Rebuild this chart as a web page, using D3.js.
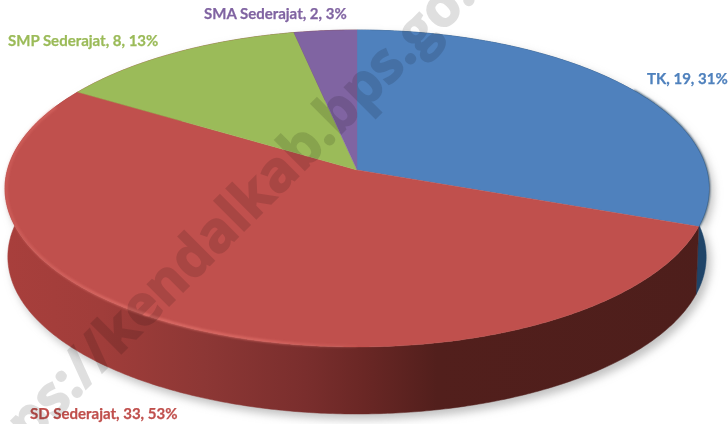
<!DOCTYPE html>
<html>
<head>
<meta charset="utf-8">
<style>
  html, body { margin: 0; padding: 0; background: #fff; overflow: hidden; }
  text { font-family: Lato, "Open Sans", sans-serif; font-weight: 700; }
</style>
<script src="https://cdn.jsdelivr.net/npm/d3@7/dist/d3.min.js"></script>
</head>
<body>
<div class="chart"></div>
<script>
var w = 728,
    h = 424;

var categories = ["TK", "SD Sederajat", "SMP Sederajat", "SMA Sederajat"];
var values = [19, 33, 8, 2];
var percents = ["31%", "53%", "13%", "3%"];
var colors = ["#4f81bd", "#c0504d", "#9bbb59", "#8064a2"];
var labelPos = [[647, 84], [30, 419], [8, 46], [204, 19]];
var watermark = "https://kendalkab.bps.go.id";

var svg = d3.select(".chart").append("svg")
  .attr("width", w)
  .attr("height", h)
  .style("display", "block");

var defs = svg.append("defs");

defs.append("filter").attr("id", "blur6")
  .attr("x", "-10%").attr("y", "-10%").attr("width", "120%").attr("height", "120%")
  .append("feGaussianBlur").attr("stdDeviation", 4);
defs.append("filter").attr("id", "blur1")
  .attr("x", "-5%").attr("y", "-5%").attr("width", "110%").attr("height", "110%")
  .append("feGaussianBlur").attr("stdDeviation", 1);
defs.append("filter").attr("id", "soft")
  .attr("x", "-5%").attr("y", "-20%").attr("width", "110%").attr("height", "140%")
  .append("feGaussianBlur").attr("stdDeviation", 0.35);

var wallGrad = defs.append("linearGradient").attr("id", "wallRed")
  .attr("gradientUnits", "userSpaceOnUse")
  .attr("x1", 0).attr("x2", w).attr("y1", 0).attr("y2", 0);
[[0.01, "#a83f3c"], [0.14, "#a03d3a"], [0.28, "#8d3735"], [0.42, "#7a2e2d"],
 [0.5, "#6a2725"], [0.6, "#521f1c"], [1, "#4d1e1b"]].forEach(function(s) {
  wallGrad.append("stop").attr("offset", s[0]).attr("stop-color", s[1]);
});

var rimGrad = defs.append("linearGradient").attr("id", "rimLight")
  .attr("gradientUnits", "userSpaceOnUse")
  .attr("x1", 0).attr("x2", w).attr("y1", 0).attr("y2", 0);
[[0, 0.35], [0.2, 0.9], [0.36, 0.75], [0.52, 0]].forEach(function(s) {
  rimGrad.append("stop").attr("offset", s[0])
    .attr("stop-color", "#e2706a").attr("stop-opacity", s[1]);
});

// the disc is tilted, so the centre of the pie sits above the centre of the ellipse
var cx = 357, cy = 170, radius = 349.6, persp = -0.1167, ySpan = 136.5;
var depth = 68.4, bottomScale = 0.992;

function rimPoint(angle, k, dy) {
  var u = Math.sin(angle),
      v = -Math.cos(angle),
      d = 1 + persp * v;
  return [cx + k * radius * u / d, cy + k * ySpan * v / d + k * (cy / d - cy) + dy];
}

function arcPoints(a0, a1, k, dy) {
  var n = Math.max(2, Math.ceil((a1 - a0) / 0.01));
  return d3.range(n + 1).map(function(i) {
    return rimPoint(a0 + (a1 - a0) * i / n, k, dy);
  });
}

var pie = d3.pie().sort(null)(values);
var line = d3.line();

function wallPath(d) {
  var top = arcPoints(d.startAngle, d.endAngle, 1, 0);
  var bottom = arcPoints(d.startAngle, d.endAngle, bottomScale, depth).reverse();
  return line(top.concat(bottom)) + "Z";
}

function slicePath(d) {
  return line([[cx, cy]].concat(arcPoints(d.startAngle, d.endAngle, 1, 0))) + "Z";
}

// soft shadow under the disc
svg.append("g")
  .attr("transform", "translate(4,5)")
  .attr("filter", "url(#blur6)")
  .selectAll("path")
  .data(pie)
  .enter()
  .append("path")
  .attr("d", wallPath)
  .attr("fill", "#a8a8a8")
  .attr("stroke", "#a8a8a8")
  .attr("opacity", 0.7);

// side wall
svg.append("g")
  .selectAll("path")
  .data(pie)
  .enter()
  .append("path")
  .attr("d", wallPath)
  .attr("fill", function(d, i) {
    return i === 0 ? "#1f4468" : "url(#wallRed)";
  })
  .attr("stroke", function(d, i) {
    return i === 0 ? "#1f4468" : "url(#wallRed)";
  })
  .attr("stroke-width", 0.5);

// dark edge behind the top surface, seen on the blue slice
svg.append("path")
  .attr("d", line(arcPoints(pie[0].startAngle + 1, pie[0].endAngle, 1, 0)))
  .attr("fill", "none")
  .attr("stroke", "#1c3a58")
  .attr("stroke-width", 1.8)
  .attr("filter", "url(#blur1)");

// top surface
svg.append("g")
  .selectAll("path")
  .data(pie)
  .enter()
  .append("path")
  .attr("d", slicePath)
  .attr("fill", function(d, i) {
    return colors[i];
  })
  .attr("stroke", function(d, i) {
    return colors[i];
  })
  .attr("stroke-width", 0.4);

// highlight along the front left rim
svg.append("path")
  .attr("d", line(arcPoints(Math.PI, pie[1].endAngle - 0.12, 0.997, 0)))
  .attr("fill", "none")
  .attr("stroke", "url(#rimLight)")
  .attr("stroke-width", 2.5)
  .attr("filter", "url(#blur1)");

// data labels
svg.append("g")
  .selectAll("text")
  .data(categories)
  .enter()
  .append("text")
  .attr("x", function(d, i) {
    return labelPos[i][0];
  })
  .attr("y", function(d, i) {
    return labelPos[i][1];
  })
  .attr("font-size", 15)
  .attr("fill", function(d, i) {
    return colors[i];
  })
  .attr("stroke", function(d, i) {
    return colors[i];
  })
  .attr("stroke-width", 0.25)
  .attr("filter", "url(#soft)")
  .text(function(d, i) {
    return d + ", " + values[i] + ", " + percents[i];
  });

// site watermark lies over everything
svg.append("text")
  .attr("transform", "translate(-31,506) rotate(-45)")
  .attr("font-size", 56)
  .attr("fill", "#000")
  .attr("stroke", "#000")
  .attr("stroke-width", 1.6)
  .attr("opacity", 0.12)
  .style("font-family", "'Open Sans', sans-serif")
  .style("font-weight", 700)
  .text(watermark);
</script>
</body>
</html>
